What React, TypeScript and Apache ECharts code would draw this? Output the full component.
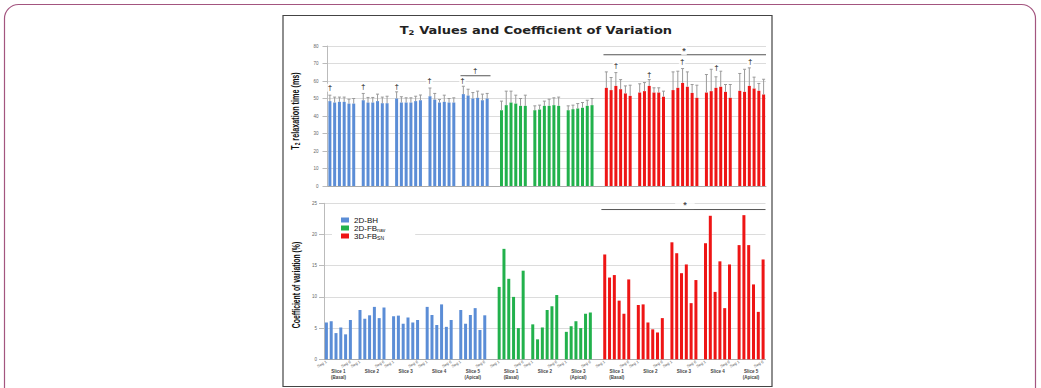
import React, { useEffect, useRef } from "react";
import * as echarts from "echarts";

// ---------- data ----------
const modalities = ["2D-BH", "2D-FBnav", "3D-FBSN"];
const legendLabels = ["2D-BH", "2D-FB{s|nav}", "3D-FB{s|SN}"];
const colors = ["#5b8dd6", "#22b14c", "#ee1515"];
const segNames = ["Seg 1", "Seg 2", "Seg 3", "Seg 4", "Seg 5", "Seg 6"];
const slices5 = ["Slice 1\n(Basal)", "Slice 2", "Slice 3", "Slice 4", "Slice 5\n(Apical)"];
const slices3 = ["Slice 1\n(Basal)", "Slice 2", "Slice 3\n(Apical)"];
const sliceSets = [slices5, slices3, slices5];

// T2 mean values (ms)
const t2BH = [
  [48.5, 47.7, 48.1, 48.1, 47.1, 47.1],
  [49.0, 47.7, 47.7, 48.5, 47.3, 47.3],
  [50.0, 47.7, 47.7, 47.7, 48.5, 49.0],
  [51.3, 49.4, 47.7, 48.1, 47.7, 47.7],
  [52.5, 51.7, 50.0, 50.4, 49.0, 50.0],
];
const t2BHsd = [
  [3.4, 3.1, 2.7, 2.7, 2.5, 2.9],
  [3.9, 2.9, 2.9, 4.0, 3.5, 4.0],
  [3.8, 3.3, 2.7, 2.7, 2.8, 3.0],
  [4.7, 3.5, 1.7, 3.8, 2.3, 2.7],
  [4.5, 3.6, 3.4, 3.8, 3.5, 2.9],
];
const t2FBnav = [
  [43.3, 46.2, 47.7, 47.1, 45.8, 45.8],
  [43.3, 43.7, 45.8, 45.8, 46.2, 45.8],
  [43.3, 43.9, 44.3, 44.7, 45.8, 46.2],
];
const t2FBnavSd = [
  [5.2, 8.0, 6.5, 4.8, 4.2, 6.1],
  [2.5, 2.5, 2.7, 3.8, 4.2, 5.0],
  [2.5, 2.3, 2.8, 3.0, 3.2, 3.8],
];
const t2FBsn = [
  [56.1, 54.8, 57.2, 55.3, 52.9, 51.5],
  [53.4, 54.2, 57.2, 53.4, 53.4, 51.0],
  [54.8, 56.1, 58.9, 56.7, 53.2, 50.4],
  [53.4, 54.2, 56.1, 56.7, 53.8, 50.4],
  [54.4, 53.8, 57.2, 55.7, 54.4, 52.3],
];
const t2FBsnSd = [
  [9.1, 7.2, 7.6, 5.5, 4.3, 6.1],
  [5.0, 4.9, 3.6, 2.7, 2.7, 3.2],
  [10.4, 9.5, 8.2, 8.5, 4.8, 7.2],
  [10.3, 12.5, 6.3, 8.9, 4.2, 7.6],
  [9.9, 12.9, 10.3, 6.5, 4.2, 8.7],
];

// Coefficient of variation (%)
const cvBH = [
  [5.9, 6.1, 4.2, 5.1, 4.0, 6.3],
  [7.9, 6.5, 7.05, 8.4, 6.6, 8.3],
  [6.9, 7.0, 5.7, 6.7, 5.9, 6.3],
  [8.4, 7.1, 5.5, 8.8, 5.2, 6.3],
  [7.9, 5.7, 7.1, 8.2, 4.7, 7.05],
];
const cvFBnav = [
  [11.6, 17.7, 12.9, 10.0, 5.0, 14.2],
  [5.6, 3.2, 5.1, 7.9, 8.5, 10.3],
  [4.4, 5.3, 6.1, 5.0, 7.3, 7.5],
];
const cvFBsn = [
  [16.8, 13.1, 13.5, 9.4, 7.3, 12.8],
  [8.7, 8.8, 5.9, 4.8, 4.3, 6.6],
  [18.75, 17.0, 13.8, 15.2, 9.0, 12.7],
  [18.6, 23.0, 10.8, 15.7, 8.2, 15.2],
  [18.3, 23.1, 18.3, 12.0, 7.6, 16.0],
];

const t2Ticks = { min: 0, max: 80, interval: 10 };
const cvTicks = { min: 0, max: 25, interval: 5 };

// significance annotations (x in slot units, y in axis units)
const topDaggers = [
  [0.5, 56.2], [7.5, 56.6], [14.5, 57.1], [21.4, 60.2], [28.3, 60.2], [31.0, 65.9],
  [60.5, 68.7], [67.5, 64.0], [74.4, 71.0], [81.6, 67.6], [88.7, 71.0],
];
const topBracketBH = [[27.9, 63], [34.2, 63]];
const topBracketSN = [[57.9, 75], [92, 75]];
const topStar = [[74.8, 77.3]];
const bottomBracketSN = [[57.8, 24], [92, 24]];
const bottomStar = [[75.2, 24.8]];

const t2Means = [t2BH, t2FBnav, t2FBsn];
const t2Sds = [t2BHsd, t2FBnavSd, t2FBsnSd];
const cvVals = [cvBH, cvFBnav, cvFBsn];

function buildLayout() {
  const categories: string[] = [];
  const slots: number[][][] = [];
  const centers: { value: number; label: string }[] = [];
  sliceSets.forEach((set, m) => {
    const modSlots: number[][] = [];
    set.forEach((label, g) => {
      if (m > 0 || g > 0) categories.push("");
      if (m > 0 && g === 0) categories.push("");
      const start = categories.length;
      const s: number[] = [];
      segNames.forEach((sn) => {
        s.push(categories.length);
        categories.push(sn);
      });
      modSlots.push(s);
      centers.push({ value: start + 3, label });
    });
    slots.push(modSlots);
  });
  return { categories, slots, centers };
}

const SANS = "'Liberation Sans', Arial, sans-serif";
const WIDE = "'DejaVu Sans', Verdana, sans-serif";

export default function App() {
  const ref = useRef<HTMLDivElement>(null);
  useEffect(() => {
    if (!ref.current) return;
    const chart = echarts.init(ref.current, undefined, { renderer: "svg" });
    const { categories, slots, centers } = buildLayout();
    const N = categories.length;

    const topBars = modalities.map((name, m) => {
      const data: any[] = new Array(N).fill("-");
      slots[m].forEach((grp, g) => grp.forEach((s, k) => (data[s] = t2Means[m][g][k])));
      return {
        type: "bar", name, xAxisIndex: 0, yAxisIndex: 0, data, barWidth: 3, barGap: "-100%",
        itemStyle: { color: colors[m] }, z: 2,
      };
    });
    const botBars = modalities.map((name, m) => {
      const data: any[] = new Array(N).fill("-");
      slots[m].forEach((grp, g) => grp.forEach((s, k) => (data[s] = cvVals[m][g][k])));
      return {
        type: "bar", name, xAxisIndex: 2, yAxisIndex: 1, data, barWidth: 3, barGap: "-100%",
        itemStyle: { color: colors[m] }, z: 2,
      };
    });
    const errData: number[][] = [];
    slots.forEach((modSlots, m) =>
      modSlots.forEach((grp, g) =>
        grp.forEach((s, k) => errData.push([s, t2Means[m][g][k], t2Means[m][g][k] + t2Sds[m][g][k]]))
      )
    );
    const errSeries = {
      type: "custom", name: "sd", xAxisIndex: 0, yAxisIndex: 0, data: errData, z: 3,
      encode: { x: 0, y: [1, 2] },
      renderItem: (_p: any, api: any) => {
        const x = api.value(0);
        const a = api.coord([x, api.value(1)]);
        const b = api.coord([x, api.value(2)]);
        const st = { stroke: "#9a9a9a", lineWidth: 1 };
        return {
          type: "group",
          children: [
            { type: "line", shape: { x1: a[0], y1: a[1], x2: b[0], y2: b[1] }, style: st },
            { type: "line", shape: { x1: b[0] - 1.5, y1: b[1], x2: b[0] + 1.5, y2: b[1] }, style: st },
          ],
        };
      },
    };
    const markLabel = (txt: string, size: number, pad: any) => ({
      show: true, position: "inside", formatter: txt, fontSize: size, fontWeight: "bold",
      color: "#1a1a1a", backgroundColor: "#fff", padding: pad, fontFamily: SANS,
      textBorderWidth: 0, textBorderColor: "transparent",
    });
    const annot = (data: number[][], xi: number, yi: number, txt: string, size: number, pad: any) => ({
      type: "scatter", name: "annot", xAxisIndex: xi, yAxisIndex: yi, data, symbolSize: 1,
      itemStyle: { color: "rgba(0,0,0,0)" }, label: markLabel(txt, size, pad), z: 5, silent: true,
    });
    const bracket = (data: number[][], xi: number, yi: number) => ({
      type: "line", name: "bracket", xAxisIndex: xi, yAxisIndex: yi, data, symbol: "none",
      lineStyle: { color: "#555", width: 1 }, z: 4, silent: true,
    });

    const gridLine = { show: true, lineStyle: { color: "#dcdcdc", width: 1 } };
    const tickLabel = { fontSize: 4.5, color: "#666", fontFamily: SANS };

    chart.setOption({
      animation: false,
      backgroundColor: "#fff",
      grid: [
        { left: 327.5, top: 46, width: 438.5, height: 140 },
        { left: 324, top: 203.3, width: 441.5, height: 156 },
      ],
      xAxis: [
        { type: "category", gridIndex: 0, data: categories, axisLine: { lineStyle: { color: "#aaa" } },
          axisTick: { show: false }, axisLabel: { show: false } },
        { type: "value", gridIndex: 0, min: 0, max: N, show: false },
        { type: "category", gridIndex: 1, data: categories, axisLine: { lineStyle: { color: "#aaa" } },
          axisTick: { show: false },
          axisLabel: { interval: 0, rotate: 30, margin: 2, fontSize: 4, color: "#666", fontFamily: SANS,
            formatter: (v: string) => (v === segNames[0] || v === segNames[5] ? v : "") } },
        { type: "value", gridIndex: 1, min: 0, max: N, position: "bottom", axisLine: { show: false },
          axisTick: { show: false }, splitLine: { show: false },
          axisLabel: { customValues: centers.map((c) => c.value), margin: 9, fontSize: 4.5, lineHeight: 6,
            fontWeight: "bold", color: "#444", fontFamily: SANS,
            formatter: (v: number) => (centers.find((c) => c.value === v) || { label: "" }).label } },
      ],
      yAxis: [
        { type: "value", gridIndex: 0, ...t2Ticks, axisLine: { show: true, lineStyle: { color: "#bbb" } },
          splitLine: gridLine, axisLabel: { ...tickLabel, margin: 9 } },
        { type: "value", gridIndex: 1, ...cvTicks, axisLine: { show: true, lineStyle: { color: "#bbb" } },
          splitLine: gridLine, axisLabel: { ...tickLabel, margin: 7 } },
      ],
      legend: {
        data: modalities, left: 332, top: 214, orient: "vertical", icon: "rect", itemWidth: 8, itemHeight: 5,
        itemGap: 0, padding: [2, 30, 2, 9], backgroundColor: "#fff",
        formatter: (n: string) => legendLabels[modalities.indexOf(n)],
        textStyle: { fontSize: 8, lineHeight: 8, color: "#111", fontFamily: SANS,
          rich: { s: { fontSize: 5, lineHeight: 8, padding: [3, 0, 0, 0], color: "#111", fontFamily: SANS } } },
      },
      graphic: [
        { type: "rect", silent: true, shape: { x: 4.5, y: 4.5, width: 1031, height: 440, r: 14 },
          style: { fill: "none", stroke: "#a3557f", lineWidth: 1.2 } },
        { type: "rect", silent: true, shape: { x: 283, y: 15.5, width: 489, height: 371 },
          style: { fill: "none", stroke: "#444", lineWidth: 1.2 } },
        { type: "text", silent: true, x: 536, y: 31, scaleX: 1.3,
          style: { text: "{a|T}{b|2}{a| Values and Coefficient of Variation}", align: "center", verticalAlign: "middle",
            rich: { a: { font: "bold 10px " + WIDE, fill: "#222", lineHeight: 12 },
              b: { font: "bold 6.5px " + WIDE, fill: "#222", lineHeight: 12, padding: [4, 0, 0, 0] } } } },
        { type: "text", silent: true, x: 296, y: 111, rotation: Math.PI / 2, scaleX: 0.69,
          style: { text: "{a|T}{b|2}{a| relaxation time (ms)}", align: "center", verticalAlign: "middle",
            rich: { a: { font: "bold 10.5px " + SANS, fill: "#111", lineHeight: 12 },
              b: { font: "bold 7px " + SANS, fill: "#111", lineHeight: 12, padding: [4, 0, 0, 0] } } } },
        { type: "text", silent: true, x: 296, y: 285, rotation: Math.PI / 2, scaleX: 0.65,
          style: { text: "Coefficient of variation (%)", align: "center", verticalAlign: "middle",
            font: "bold 10.5px " + SANS, fill: "#111" } },
      ],
      series: [
        ...topBars,
        errSeries,
        ...botBars,
        annot(topDaggers, 1, 0, "†", 8, [0, 1]),
        annot(topStar, 1, 0, "*", 9, [0, 1]),
        bracket(topBracketBH, 1, 0),
        bracket(topBracketSN, 1, 0),
        bracket(bottomBracketSN, 3, 1),
        annot(bottomStar, 3, 1, "*", 9, [0, 8]),
      ],
    });
    return () => chart.dispose();
  }, []);
  return <div ref={ref} style={{ position: "fixed", left: 0, top: 0, width: 1041, height: 388 }} />;
}
